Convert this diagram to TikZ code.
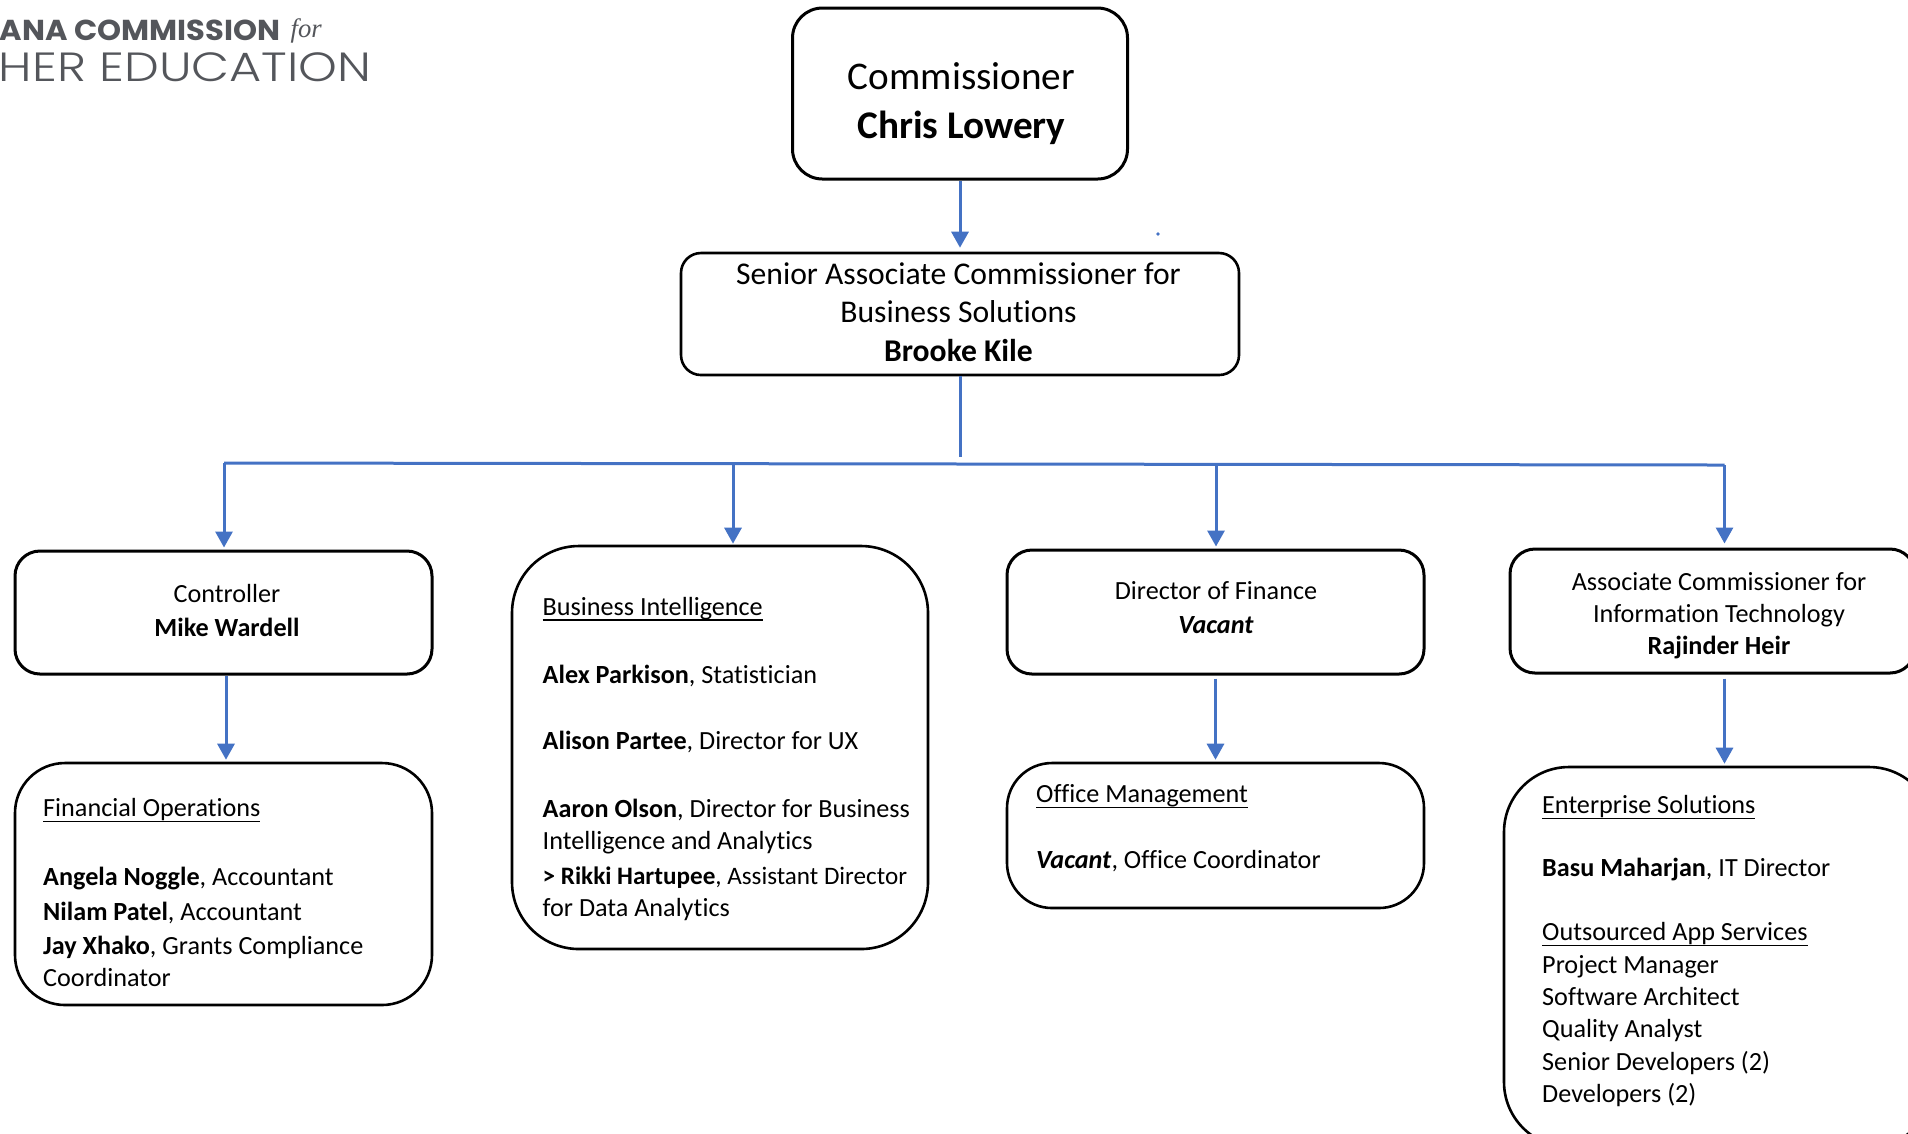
\documentclass[tikz,border=0pt]{standalone}
\usepackage{fontspec}
\setmainfont{Carlito}[Ligatures=NoCommon]
\newfontfamily\logobold{Poppins}[FakeStretch=1.06]
\newfontfamily\logolight{Poppins Light}[FakeStretch=1.21]
\newfontfamily\logoserif{Liberation Serif}
\usetikzlibrary{arrows.meta}

\definecolor{arrowblue}{HTML}{4472C4}
\definecolor{logogray}{HTML}{54565B}

\newcommand{\ul}[1]{\underline{\smash{#1}}}

\tikzset{
	orgbox/.style={draw=black, line width=0.026cm, minimum width=#1, inner sep=0pt},
	bodytext/.style={inner sep=0pt, font=\fontsize{7.45}{9.1}\selectfont},
	logotext/.style={anchor=base west, inner sep=0pt, text=logogray},
	link/.style={draw=arrowblue, line width=0.03cm},
	arrowlink/.style={link, -{Triangle[length=0.16cm,width=0.17cm]}, shorten >=#1},
	arrowlink/.default=0.02cm
}

\begin{document}
\begin{tikzpicture}[y=-1cm]
	\useasboundingbox (0, 0) rectangle (19.08, 11.33);
	\clip (0, 0) rectangle (19.08, 11.33);

	% logo
	\node[logotext, font=\fontsize{8.2}{10}\logobold\bfseries] (logoTop) at (-0.01, 0.4) {ANA COMMISSION};
	\node[logotext, font=\fontsize{7.6}{10}\logoserif\itshape] (logoFor) at (2.9, 0.37) {for};
	\node[logotext, font=\fontsize{11.6}{14}\logolight] (logoBottom) at (-0.02, 0.81) {HER EDUCATION};

	% boxes
	\node[orgbox=3.35cm, minimum height=1.71cm, rounded corners=0.3cm, line width=0.03cm] (comm) at (9.6, 0.935) {};
	\node[orgbox=5.58cm, minimum height=1.22cm, rounded corners=0.2cm] (senior) at (9.6, 3.14) {};
	\node[orgbox=4.17cm, minimum height=1.23cm, rounded corners=0.25cm, line width=0.03cm] (ctrl) at (2.235, 6.125) {};
	\node[orgbox=4.16cm, minimum height=4.03cm, rounded corners=0.67cm] (bi) at (7.2, 7.475) {};
	\node[orgbox=4.17cm, minimum height=1.24cm, rounded corners=0.25cm, line width=0.03cm] (dir) at (12.155, 6.12) {};
	\node[orgbox=4.05cm, minimum height=1.24cm, rounded corners=0.25cm, line width=0.03cm] (assoc) at (17.125, 6.11) {};
	\node[orgbox=4.17cm, minimum height=2.42cm, rounded corners=0.5cm] (fin) at (2.235, 8.84) {};
	\node[orgbox=4.17cm, minimum height=1.45cm, rounded corners=0.45cm] (office) at (12.155, 8.355) {};
	\node[orgbox=4.3cm, minimum height=3.8cm, rounded corners=0.65cm] (ent) at (17.19, 9.57) {};

	% box texts
	\node[inner sep=0pt, align=center, font=\fontsize{11.15}{14}\selectfont] (commText) at (9.615, 1.035) {Commissioner\\\textbf{Chris Lowery}};
	\node[inner sep=0pt, align=center, font=\fontsize{9}{10.8}\selectfont] (seniorText) at (9.585, 3.12) {Senior Associate Commissioner for\\Business Solutions\\[0.015cm]\textbf{Brooke Kile}};
	\node[bodytext, align=center] (ctrlText) at (2.27, 6.105) {Controller\\[0.02cm]\textbf{Mike Wardell}};
	\node[bodytext, align=center] (dirText) at (12.16, 6.08) {Director of Finance\\[0.02cm]\textbf{\textit{Vacant}}};
	\node[bodytext, align=center] (assocText) at (17.19, 6.16) {Associate Commissioner for\\Information Technology\\\textbf{Rajinder Heir}};

	\node[bodytext, align=left, anchor=north west] (biText) at (5.42, 6.145) {\ul{Business Intelligence}\\[0.36cm]
		\textbf{Alex Parkison}, Statistician\\[0.34cm]
		\textbf{Alison Partee}, Director for UX\\[0.36cm]
		\textbf{Aaron Olson}, Director for Business\\
		Intelligence and Analytics\\[0.03cm]
		{\fontsize{7.15}{9.1}\selectfont\textbf{> Rikki Hartupee}, Assistant Director}\\
		for Data Analytics};
	\node[bodytext, align=left, anchor=north west] (finText) at (0.425, 8.16) {\ul{Financial Operations}\\[0.37cm]
		\textbf{Angela Noggle}, Accountant\\[0.025cm]
		\textbf{Nilam Patel}, Accountant\\[0.025cm]
		\textbf{Jay Xhako}, Grants Compliance\\
		Coordinator};
	\node[bodytext, align=left, anchor=north west] (officeText) at (10.355, 8.02) {\ul{Office Management}\\[0.34cm]
		\textbf{\textit{Vacant}}, Office Coordinator};
	\node[bodytext, align=left, anchor=north west] (entText) at (15.415, 8.13) {\ul{Enterprise Solutions}\\[0.31cm]
		\textbf{Basu Maharjan}, IT Director\\[0.32cm]
		\ul{Outsourced App Services}\\[0.01cm]
		Project Manager\\
		Software Architect\\
		Quality Analyst\\[0.005cm]
		Senior Developers (2)\\
		Developers (2)};

	% connectors
	\coordinate (trunk) at (9.6, 4.57);
	\coordinate (busCtrl) at (2.24, 4.63);
	\coordinate (busBi) at (7.33, 4.635);
	\coordinate (busDir) at (12.16, 4.64);
	\coordinate (busAssoc) at (17.245, 4.65);

	\draw[arrowlink=0.04cm] (comm) -- (senior);
	\draw[link] (senior) -- (trunk);
	\draw[link] (busCtrl) -- (busAssoc);
	\draw[arrowlink] (busCtrl) -- (busCtrl |- ctrl.north);
	\draw[arrowlink=0.01cm] (busBi) -- (busBi |- bi.north);
	\draw[arrowlink] (busDir) -- (busDir |- dir.north);
	\draw[arrowlink=0.04cm] (busAssoc) -- (busAssoc |- assoc.north);

	\draw[arrowlink] ([xshift=0.025cm]ctrl.south) -- ([xshift=0.025cm]fin.north);
	\draw[arrowlink, shorten <=0.03cm] (dir) -- (office);
	\draw[arrowlink, shorten <=0.04cm] (busAssoc |- assoc.south) -- (busAssoc |- ent.north);

	\fill[arrowblue] (11.58, 2.34) circle (0.018);
\end{tikzpicture}
\end{document}
